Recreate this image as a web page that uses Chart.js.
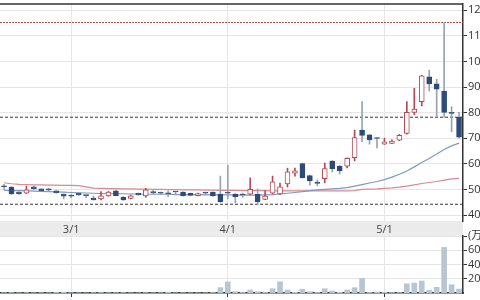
<!DOCTYPE html>
<html>
<head>
<meta charset="utf-8">
<script src="https://cdn.jsdelivr.net/npm/chart.js@4.4.0/dist/chart.umd.min.js"></script>
<style>
  html, body { margin: 0; padding: 0; background: #fff; }
  #wrap { position: relative; width: 480px; height: 300px; overflow: hidden; }
  #priceChart { position: absolute; left: 0; top: 0; }
  #volChart { position: absolute; left: 0; top: 226px; }
</style>
</head>
<body>
<div id="wrap">
  <canvas id="priceChart" width="480" height="236"></canvas>
  <canvas id="volChart" width="480" height="74"></canvas>
</div>
<script>
// daily candles, index 0 = first day shown
const opens  = [51.0, 50.8, 49.0, 48.5, 51.0, 50.2, 49.8, 49.4, 48.2, 47.5,
                48.5, 47.6, 46.6, 46.3, 47.5, 49.4, 46.9, 46.5, 48.5, 47.5,
                49.2, 48.6, 48.5, 49.0, 49.0, 48.5, 47.6, 48.5, 49.0, 48.2,
                48.7, 48.2, 47.8, 48.1, 48.1, 46.1, 48.5, 48.2, 52.1, 56.3,
                60.1, 55.4, 52.9, 54.2, 61.1, 59.1, 59.1, 62.4, 73.2, 71.3,
                70.1, 67.7, 68.0, 69.2, 71.9, 80.1, 84.3, 94.0, 91.2, 88.4,
                80.0, 78.2];
const highs  = [52.0, 51.2, 49.2, 51.3, 51.3, 50.3, 50.4, 49.5, 48.3, 48.0,
                48.6, 47.7, 47.4, 49.2, 49.2, 49.6, 47.2, 47.8, 48.6, 50.4,
                49.6, 49.0, 49.4, 49.1, 49.1, 48.6, 48.6, 49.0, 49.1, 55.2,
                59.5, 48.4, 48.6, 54.5, 50.2, 49.4, 55.2, 52.5, 58.3, 58.3,
                60.3, 55.6, 53.7, 60.3, 61.3, 59.3, 62.3, 73.2, 84.3, 71.5,
                70.2, 70.0, 69.4, 71.5, 84.3, 89.5, 94.6, 96.6, 93.0, 115.2,
                82.3, 80.1];
const lows   = [50.0, 48.0, 48.0, 48.4, 50.0, 49.4, 49.3, 48.5, 46.3, 46.8,
                47.6, 46.8, 45.8, 45.9, 47.3, 47.5, 45.7, 46.3, 47.7, 46.9,
                48.3, 48.0, 47.2, 48.2, 47.4, 47.6, 47.5, 48.0, 47.3, 44.9,
                46.3, 44.8, 46.9, 47.9, 44.0, 46.0, 48.2, 47.9, 50.9, 55.2,
                54.4, 51.7, 51.4, 52.6, 56.8, 56.0, 58.4, 61.1, 68.6, 67.7,
                66.2, 67.6, 67.9, 69.0, 71.6, 79.1, 82.6, 88.4, 78.2, 78.2,
                72.5, 70.0];
const closes = [51.0, 48.2, 48.3, 49.8, 50.2, 49.5, 49.8, 48.7, 47.4, 47.4,
                47.8, 47.6, 45.9, 47.5, 49.0, 47.6, 45.9, 47.5, 47.8, 49.8,
                48.6, 48.5, 48.3, 49.0, 47.6, 47.7, 48.4, 48.5, 47.6, 45.2,
                48.5, 47.2, 47.8, 50.0, 45.2, 47.4, 53.0, 51.0, 56.9, 57.3,
                54.6, 53.3, 52.3, 58.1, 58.1, 57.2, 62.1, 70.2, 71.1, 69.3,
                69.9, 68.6, 68.9, 71.1, 80.1, 81.4, 94.4, 91.2, 89.2, 80.1,
                79.7, 70.4];
// volume, 万株
const volumes = [4, 6, 3, 5, 3, 4, 3, 8, 12, 4,
                 3, 2, 5, 6, 4, 5, 6, 3, 2, 5,
                 3, 4, 12, 3, 4, 3, 2, 3, 6, 75,
                 155, 20, 8, 42, 18, 8, 60, 158, 42, 10,
                 52, 18, 8, 60, 28, 10, 42, 74, 205, 8,
                 14, 10, 6, 6, 130, 140, 168, 38, 80, 640,
                 116, 56];
// moving averages
const maShort = [49.6, 49.5, 49.5, 49.4, 49.3, 49.2, 49.1, 49.0, 48.9, 48.8,
                 48.7, 48.6, 48.5, 48.4, 48.4, 48.3, 48.3, 48.2, 48.2, 48.1,
                 48.1, 48.1, 48.1, 48.0, 48.0, 48.0, 48.0, 47.9, 47.9, 47.9,
                 47.9, 47.8, 47.8, 47.8, 47.8, 47.9, 48.0, 48.2, 48.5, 48.8,
                 49.1, 49.5, 49.8, 50.0, 50.2, 50.4, 50.7, 51.3, 51.9, 52.5,
                 53.1, 53.8, 54.8, 55.9, 57.2, 58.8, 60.5, 62.1, 63.8, 65.6,
                 67.0, 68.1];
const maLong  = [52.6, 52.2, 52.0, 51.9, 51.8, 51.8, 51.7, 51.7, 51.6, 51.6,
                 51.5, 51.0, 50.5, 50.4, 50.3, 50.3, 50.2, 50.2, 50.1, 50.1,
                 50.0, 50.0, 49.9, 49.9, 49.8, 49.8, 49.8, 49.7, 49.7, 49.6,
                 49.6, 49.6, 49.5, 49.5, 49.5, 49.5, 49.4, 49.4, 49.4, 49.4,
                 49.4, 49.4, 49.4, 49.4, 49.4, 49.4, 49.4, 49.5, 50.0, 50.1,
                 50.2, 50.4, 50.6, 50.9, 51.3, 51.8, 52.3, 52.7, 53.1, 53.6,
                 54.1, 54.3];
// horizontal reference lines
const highLine = 115.2;
const midLine = 78.2;
const lowLine = 44.2;

const monthTicks = [9, 30, 51];
const monthLabels = ['3/1', '4/1', '5/1'];
const priceTicks = [40, 50, 60, 70, 80, 90, 100, 110, 120];
const volTicks = [200, 400, 600, 800];
const volTickLabels = ['200', '400', '600', '(万)'];

const xMin = -0.54, xMax = 61.53;
const UP = '#b24a55', DOWN = '#2e4a78', DOWN_WICK = '#97a3b3';
const isUp = i => closes[i] > opens[i];

Chart.defaults.font.family = "'Open Sans', 'Noto Sans CJK JP', sans-serif";
Chart.defaults.font.size = 11;
Chart.defaults.color = '#333';

const bodyData = opens.map((o, i) => ({ x: i, y: [o, closes[i]] }));
const wickData = lows.map((l, i) => ({ x: i, y: [l, highs[i]] }));
const levelLine = v => [{ x: xMin, y: v }, { x: xMax, y: v }];

// gray date band under the price panel + dark top edge
const bandPlugin = {
    id: 'band',
    beforeDraw(chart) {
        const { ctx, chartArea } = chart;
        ctx.save();
        ctx.fillStyle = '#ebebeb';
        ctx.fillRect(chartArea.left, chartArea.bottom, chartArea.right - chartArea.left, chart.height - chartArea.bottom);
        ctx.restore();
    },
    afterDraw(chart) {
        const { ctx, chartArea } = chart;
        ctx.save();
        ctx.strokeStyle = '#333';
        ctx.lineWidth = 1.5;
        ctx.beginPath();
        ctx.moveTo(chartArea.left, chartArea.top);
        ctx.lineTo(chartArea.right, chartArea.top);
        ctx.stroke();
        ctx.restore();
    }
};

function rightAxisFit(scale) {
    scale.width = 17;
    scale.paddingTop = 0;
    scale.paddingBottom = 0;
}

new Chart(document.getElementById('priceChart'), {
    type: 'bar',
    data: {
        datasets: [
            {
                data: bodyData, order: 0, grouped: false,
                barThickness: 5, minBarLength: 1, borderWidth: 1, borderSkipped: false,
                backgroundColor: c => isUp(c.dataIndex) ? '#ffffff' : DOWN,
                borderColor: c => isUp(c.dataIndex) ? UP : DOWN
            },
            {
                data: wickData, order: 1, grouped: false,
                barThickness: 1, borderWidth: 0,
                backgroundColor: c => isUp(c.dataIndex) ? UP : DOWN_WICK
            },
            {
                type: 'line', order: 2, data: maShort.map((v, i) => ({ x: i, y: v })),
                borderColor: '#8097c2', borderWidth: 1.2, pointRadius: 0
            },
            {
                type: 'line', order: 2, data: maLong.map((v, i) => ({ x: i, y: v })),
                borderColor: '#d98a92', borderWidth: 1.2, pointRadius: 0
            },
            {
                type: 'line', order: 3, data: levelLine(highLine),
                borderColor: '#b0504a', borderWidth: 1, borderDash: [2, 1], pointRadius: 0
            },
            {
                type: 'line', order: 3, data: levelLine(midLine),
                borderColor: '#333', borderWidth: 1, borderDash: [3, 2], pointRadius: 0
            },
            {
                type: 'line', order: 3, data: levelLine(lowLine),
                borderColor: '#333', borderWidth: 1, borderDash: [3, 2], pointRadius: 0
            }
        ]
    },
    options: {
        responsive: false,
        animation: false,
        layout: { padding: { top: 4, left: 0, right: 0, bottom: 0 } },
        plugins: { legend: { display: false }, tooltip: { enabled: false } },
        scales: {
            x: {
                type: 'linear', min: xMin, max: xMax, offset: false, bounds: 'data',
                grid: { color: '#e6e6e6', offset: false, drawTicks: false },
                border: { display: false },
                afterBuildTicks: scale => { scale.ticks = monthTicks.map(v => ({ value: v })); },
                afterFit: scale => { scale.height = 15; scale.paddingLeft = 0; scale.paddingRight = 0; },
                ticks: {
                    autoSkip: false, maxRotation: 0, padding: 2, color: '#444',
                    callback: (v, i) => monthLabels[i]
                }
            },
            y: {
                type: 'linear', position: 'right', min: 37.66, max: 122.42, bounds: 'data',
                grid: { color: '#e6e6e6', tickLength: 4, tickColor: '#333' },
                border: { display: true, color: '#333', width: 1.5 },
                afterBuildTicks: scale => { scale.ticks = priceTicks.map(v => ({ value: v })); },
                afterFit: rightAxisFit,
                ticks: { padding: 1, callback: v => String(v) }
            }
        }
    },
    plugins: [bandPlugin]
});

new Chart(document.getElementById('volChart'), {
    type: 'bar',
    data: {
        datasets: [{
            data: volumes.map((v, i) => ({ x: i, y: v })),
            backgroundColor: '#b8c5d2', barThickness: 5, borderWidth: 0
        }]
    },
    options: {
        responsive: false,
        animation: false,
        layout: { padding: { top: 10, left: 0, right: 0, bottom: 0 } },
        plugins: { legend: { display: false }, tooltip: { enabled: false } },
        scales: {
            x: {
                type: 'linear', min: xMin, max: xMax, offset: false, bounds: 'data',
                grid: { color: '#e6e6e6', offset: false, drawTicks: true, tickLength: 4, tickColor: '#333' },
                border: { display: true, color: '#333', width: 1.5 },
                afterBuildTicks: scale => { scale.ticks = monthTicks.map(v => ({ value: v })); },
                afterFit: scale => { scale.height = 7; scale.paddingLeft = 0; scale.paddingRight = 0; },
                ticks: { display: false }
            },
            y: {
                type: 'linear', position: 'right', min: 0, max: 800, bounds: 'data',
                grid: { color: '#e6e6e6', tickLength: 4, tickColor: '#333' },
                border: { display: true, color: '#333', width: 1.5 },
                afterBuildTicks: scale => { scale.ticks = volTicks.map(v => ({ value: v })); },
                afterFit: rightAxisFit,
                ticks: { padding: 1, callback: (v, i) => volTickLabels[i] }
            }
        }
    }
});
</script>
</body>
</html>
